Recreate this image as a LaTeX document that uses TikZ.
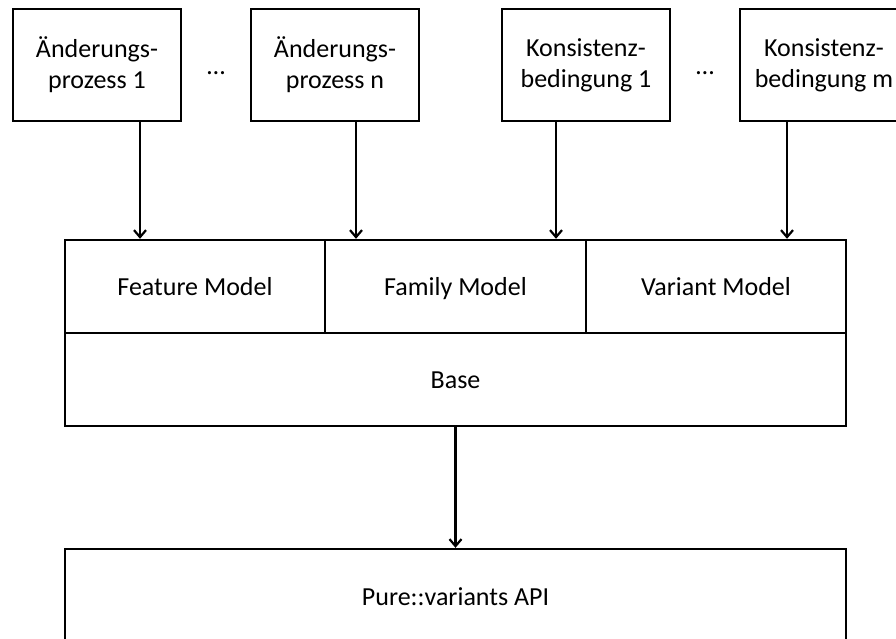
\documentclass[tikz,border=0pt]{standalone}
\usepackage{fontspec}
\setmainfont{Carlito}
\usetikzlibrary{arrows.meta}
\begin{document}
\begin{tikzpicture}[x=1pt,y=-1pt,
  every node/.style={font=\fontsize{26}{31}\selectfont, inner sep=0pt},
  topbox/.style={draw, line width=2.4pt, minimum width=168pt, minimum height=112pt, align=center},
  layerbox/.style={draw, line width=2.4pt, minimum height=93pt, text height=19pt, text depth=2pt, align=center},
  arr/.style={line width=2.2pt, -{Straight Barb[length=7pt,width=12pt,line width=2.2pt]}}
]
\useasboundingbox (0,0) rectangle (896,639);
\clip (0,0) rectangle (896,639);
\fill[white] (0,0) rectangle (896,639);

\node[topbox] (p1) at (97,65) {Änderungs-\\prozess 1};
\node[topbox] (p2) at (335,65) {Änderungs-\\prozess n};
\node[topbox] (p3) at (586,65) {Konsistenz-\\bedingung 1};
\node[topbox] (p4) at (824,65) {Konsistenz-\\bedingung m};

\node[anchor=base] (d1) at (216,75) {…};
\node[anchor=base] (d2) at (705,75) {…};

\node[layerbox, minimum width=260pt] (fm) at (195,286.5) {Feature Model};
\node[layerbox, minimum width=261pt] (fam) at (455.5,286.5) {Family Model};
\node[layerbox, minimum width=260pt] (vm) at (716,286.5) {Variant Model};
\node[layerbox, minimum width=781pt] (base) at (455.5,379.5) {Base};
\node[layerbox, minimum width=781pt, minimum height=96pt] (api) at (455.5,597) {Pure::variants API};

\draw[arr] ([xshift=43pt]p1.south) -- ([xshift=43pt]p1.south |- fm.north);
\draw[arr] ([xshift=21pt]p2.south) -- ([xshift=21pt]p2.south |- fam.north);
\draw[arr] ([xshift=-30pt]p3.south) -- ([xshift=-30pt]p3.south |- fam.north);
\draw[arr] ([xshift=-37pt]p4.south) -- ([xshift=-37pt]p4.south |- vm.north);
\draw[arr] (base.south) -- (api.north);
\end{tikzpicture}
\end{document}
